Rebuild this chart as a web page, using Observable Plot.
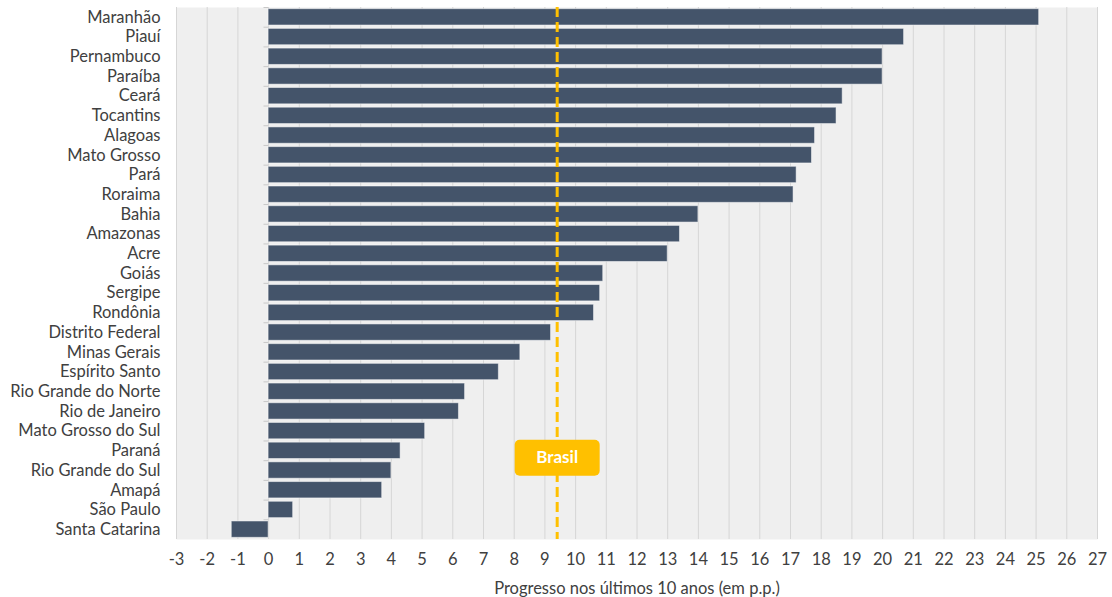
<!DOCTYPE html>
<html>
<head>
<meta charset="utf-8">
<script src="https://cdn.jsdelivr.net/npm/d3@7"></script>
<script src="https://cdn.jsdelivr.net/npm/@observablehq/plot@0.6"></script>
<style>
  html, body { margin: 0; padding: 0; background: #ffffff; }
  #chart svg { display: block; }
</style>
</head>
<body>
<div id="chart"></div>
<script>
// States, ordered by progress over the last 10 years (percentage points)
const states = [
  "Maranhão", "Piauí", "Pernambuco", "Paraíba", "Ceará", "Tocantins", "Alagoas",
  "Mato Grosso", "Pará", "Roraima", "Bahia", "Amazonas", "Acre", "Goiás", "Sergipe",
  "Rondônia", "Distrito Federal", "Minas Gerais", "Espírito Santo", "Rio Grande do Norte",
  "Rio de Janeiro", "Mato Grosso do Sul", "Paraná", "Rio Grande do Sul", "Amapá",
  "São Paulo", "Santa Catarina"
];
const progress = [
  25.1, 20.7, 20.0, 20.0, 18.7, 18.5, 17.8,
  17.7, 17.2, 17.1, 14.0, 13.4, 13.0, 10.9, 10.8,
  10.6, 9.2, 8.2, 7.5, 6.4,
  6.2, 5.1, 4.3, 4.0, 3.7,
  0.8, -1.2
];
// National reference value
const brasilValue = 9.4;
const brasilLabel = "Brasil";
const xTicks = d3.range(-3, 28);
const xTitle = "Progresso nos últimos 10 anos (em p.p.)";

const data = states.map((state, i) => ({state, value: progress[i]}));

// Rounded label box drawn as a custom dot symbol
const labelBox = {
  draw(ctx) {
    const w = 85, h = 36, r = 5, x0 = -w / 2, y0 = -h / 2;
    ctx.moveTo(x0 + r, y0);
    ctx.arcTo(x0 + w, y0, x0 + w, y0 + h, r);
    ctx.arcTo(x0 + w, y0 + h, x0, y0 + h, r);
    ctx.arcTo(x0, y0 + h, x0, y0, r);
    ctx.arcTo(x0, y0, x0 + w, y0, r);
    ctx.closePath();
  }
};

const font = "Lato, 'Open Sans', sans-serif";
const textColor = "#404040";

const chart = Plot.plot({
  width: 1112,
  height: 597,
  marginLeft: 176,
  marginRight: 15,
  marginTop: 7,
  marginBottom: 58,
  style: {fontFamily: font, fontSize: "16.5px", color: textColor, background: "#ffffff"},
  x: {domain: [-3, 27], ticks: xTicks, tickFormat: d => String(d), tickSize: 0, tickPadding: 14, label: null},
  y: {domain: states, round: false, paddingInner: 0.17, paddingOuter: 0.085, tickSize: 0, tickPadding: 16, label: null},
  marks: [
    Plot.frame({fill: "#efefef", stroke: null}),
    Plot.gridX(xTicks, {stroke: "#d6d6d6", strokeOpacity: 1, strokeWidth: 1}),
    // small category ticks on the zero line
    Plot.ruleY(states, {y: d => d, x1: -0.15, x2: 0, dy: -9.85, stroke: "#c8c8c8"}),
    Plot.barX(data, {x: "value", y: "state", fill: "#44546a", stroke: "#ffffff", strokeOpacity: 0.5, strokeWidth: 1}),
    Plot.ruleX([brasilValue], {stroke: "#ffc000", strokeWidth: 3, strokeDasharray: "10,5"}),
    Plot.dot([brasilValue], {x: d => d, y: () => "Paraná", dy: 7, symbol: labelBox, fill: "#ffc000", stroke: null}),
    Plot.text([brasilLabel], {x: () => brasilValue, y: () => "Paraná", dy: 7, text: d => d, fill: "#ffffff", fontWeight: "bold", fontSize: 17}),
    Plot.text([xTitle], {frameAnchor: "bottom", lineAnchor: "middle", dy: 49, text: d => d, fill: textColor, fontSize: 16.5})
  ]
});

document.getElementById("chart").appendChild(chart);
</script>
</body>
</html>
